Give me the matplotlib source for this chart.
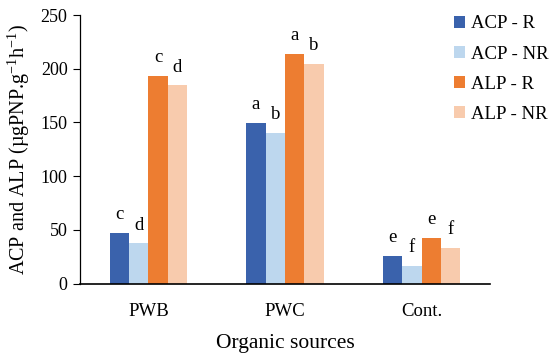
import matplotlib
matplotlib.use("Agg")
import matplotlib.pyplot as plt
import numpy as np

categories = ["PWB", "PWC", "Cont."]
series_names = ["ACP - R", "ACP - NR", "ALP - R", "ALP - NR"]
acp_r = [47, 149.5, 25.5]
acp_nr = [37.5, 140, 16.5]
alp_r = [193.5, 214, 42.5]
alp_nr = [184.5, 204.5, 33]
letters_acp_r = ["c", "a", "e"]
letters_acp_nr = ["d", "b", "f"]
letters_alp_r = ["c", "a", "e"]
letters_alp_nr = ["d", "b", "f"]
yticks = [0, 50, 100, 150, 200, 250]

colors = ["#3A62AC", "#BDD7EE", "#ED7D31", "#F8CBAD"]

plt.rcParams['font.family'] = ['Liberation Serif', 'DejaVu Serif']
plt.rcParams['mathtext.fontset'] = 'custom'
plt.rcParams['mathtext.rm'] = 'Liberation Serif'

fig = plt.figure(figsize=(5.5, 3.58), dpi=100)
ax = fig.add_axes([80/550, (358-283.5)/358, 410/550, 268.5/358])

x = np.arange(len(categories))
w = 0.142
all_vals = [acp_r, acp_nr, alp_r, alp_nr]
all_letters = [letters_acp_r, letters_acp_nr, letters_alp_r, letters_alp_nr]
for i, (vals, lets) in enumerate(zip(all_vals, all_letters)):
    pos = x + (i - 1.5) * w
    ax.bar(pos, vals, width=w, color=colors[i], label=series_names[i])
    for p, v, l in zip(pos, vals, lets):
        ax.annotate(l, (p, v), xytext=(0, 7), textcoords="offset points",
                    ha="center", va="bottom", fontsize=13.5)

ax.set_xlim(-0.5, 2.5)
ax.set_ylim(0, 250)
ax.set_yticks(yticks)
ax.set_xticks(x)
ax.set_xticklabels(categories)
ax.tick_params(axis='x', length=0, pad=14, labelsize=13.5)
ax.tick_params(axis='y', length=5, width=0.8, labelsize=13, pad=4)
for s in ["top", "right"]:
    ax.spines[s].set_visible(False)
ax.spines["left"].set_linewidth(0.9)
ax.spines["bottom"].set_linewidth(1.2)

ax.set_xlabel("Organic sources", fontsize=15.5, labelpad=10)
ax.set_ylabel(r"ACP and ALP (µgPNP.g$^{\mathregular{-1}}$h$^{\mathregular{-1}}$)", fontsize=14.5, labelpad=6)

fig.legend(loc="upper left", bbox_to_anchor=(446/550, 1 - 8/358), frameon=False,
           handlelength=0.6, handleheight=0.6, handletextpad=0.35,
           labelspacing=0.7, fontsize=13.5, borderaxespad=0)

fig.savefig("out.png", dpi=100)
